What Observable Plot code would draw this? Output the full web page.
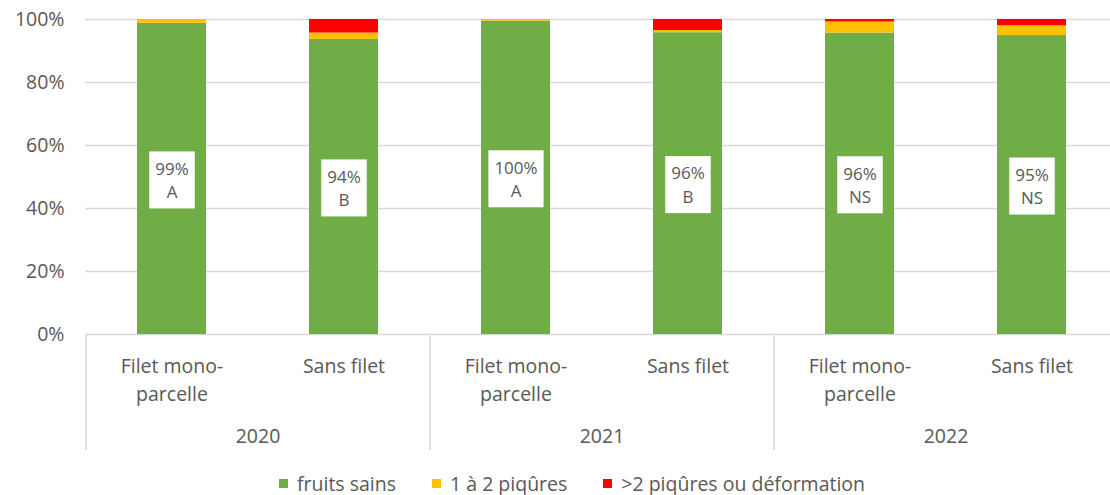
<!DOCTYPE html>
<html><head><meta charset="utf-8">
<script src="https://cdn.jsdelivr.net/npm/d3@7"></script>
<script src="https://cdn.jsdelivr.net/npm/@observablehq/plot@0.6"></script>
<style>
html,body{margin:0;padding:0;background:#fff;overflow:hidden;}
body{font-family:"Open Sans",sans-serif;color:#595959;}
#legend{display:flex;align-items:center;height:33px;padding-top:5px;padding-left:279px;font-size:19.5px;line-height:20px;color:#595959;}
#legend .item{display:flex;align-items:center;margin-right:36px;}
#legend .sw{width:9px;height:9px;margin-right:9px;}
</style></head>
<body><div id="chart"></div><div id="legend"></div>
<script>
// ---- data ----
const keys = ["2020-F", "2020-S", "2021-F", "2021-S", "2022-F", "2022-S"];
const years = ["2020", "2020", "2021", "2021", "2022", "2022"];
const treatments = ["Filet mono-\nparcelle", "Sans filet", "Filet mono-\nparcelle", "Sans filet", "Filet mono-\nparcelle", "Sans filet"];
const series = ["fruits sains", "1 à 2 piqûres", ">2 piqûres ou déformation"];
const colors = ["#70AD47", "#FFC000", "#FF0000"];
const sains = [98.8, 93.7, 99.5, 95.8, 95.7, 94.9];
const piq12 = [1.2, 2.0, 0.5, 0.7, 3.5, 3.1];
const piq2 = [0.0, 4.3, 0.0, 3.5, 0.8, 2.0];
const labels = ["99%\nA", "94%\nB", "100%\nA", "96%\nB", "96%\nNS", "95%\nNS"];
const yTicks = [0, 20, 40, 60, 80, 100];

// ---- tables ----
const wide = keys.map((k, i) => ({key: k, year: years[i], treatment: treatments[i], sains: sains[i], label: labels[i]}));
const long = [];
keys.forEach((k, i) => {
  [sains[i], piq12[i], piq2[i]].forEach((v, j) => long.push({key: k, series: series[j], value: v}));
});

// ---- layout ----
const W = 1110, H = 462, mL = 85, mT = 19, mB = 128;
const xRight = 1117;
const step = (xRight - mL) / keys.length;
const pxPerUnit = (H - mB - mT) / 100;
const sepBottom = -(450 - (H - mB)) / pxPerUnit;
const gray = "#595959", grid = "#d9d9d9";

const chart = Plot.plot({
  width: W, height: H, marginLeft: mL, marginRight: 0, marginTop: mT, marginBottom: mB,
  style: {fontFamily: '"Open Sans", sans-serif', fontSize: "19.5px", color: gray, background: "#fff"},
  x: {domain: keys, range: [mL, xRight], paddingInner: 0.6, paddingOuter: 0.3, axis: null},
  y: {domain: [0, 100], ticks: yTicks, tickFormat: d => d + "%", tickSize: 0, tickPadding: 21, label: null},
  color: {domain: series, range: colors},
  marks: [
    Plot.text(wide, {x: "key", y: d => d.sains / 2, text: "label", fontSize: 17, lineHeight: 1.38, fill: gray}),
    Plot.ruleY(yTicks, {stroke: grid, strokeWidth: 1.5}),
    Plot.ruleX([keys[0], keys[2], keys[4]], {x: d => d, dx: -step / 2, y1: 0, y2: sepBottom, stroke: grid, strokeWidth: 1.5}),
    Plot.barY(long, {x: "key", y: "value", fill: "series"}),
    Plot.text(wide, {x: "key", y: 0, text: "treatment", lineAnchor: "top", dy: 19, lineHeight: 1.42, fill: gray}),
    Plot.text(wide.filter((d, i) => i % 2 === 0), {x: "key", y: 0, dx: step / 2, dy: 102, text: "year", lineAnchor: "middle", fill: gray})
  ]
});
document.getElementById("chart").append(chart);

// move the label group on top of bars and put white boxes behind label text
const textGroups = chart.querySelectorAll('g[aria-label="text"]');
const lg = textGroups[0];
chart.appendChild(lg);
lg.querySelectorAll("text").forEach(t => {
  const bb = t.getBBox();
  const r = document.createElementNS("http://www.w3.org/2000/svg", "rect");
  const cy = bb.y + bb.height / 2;
  r.setAttribute("x", bb.x - 6);
  r.setAttribute("y", cy - 28.5);
  r.setAttribute("width", bb.width + 12);
  r.setAttribute("height", 57);
  r.setAttribute("fill", "#fff");
  if (t.getAttribute("transform")) r.setAttribute("transform", t.getAttribute("transform"));
  lg.insertBefore(r, t);
});

// legend
const leg = document.getElementById("legend");
series.forEach((s, j) => {
  const it = document.createElement("div"); it.className = "item";
  const sw = document.createElement("span"); sw.className = "sw"; sw.style.background = colors[j];
  const tx = document.createElement("span"); tx.textContent = s;
  it.append(sw, tx); leg.append(it);
});
</script>
</body></html>
